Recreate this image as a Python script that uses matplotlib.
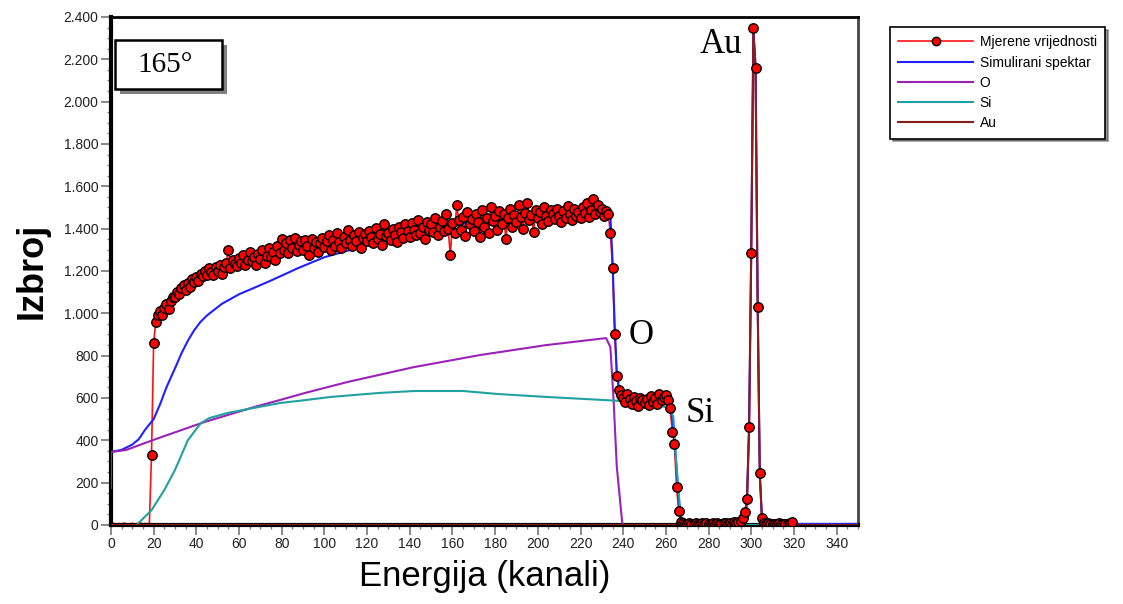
import numpy as np
import matplotlib
matplotlib.use("Agg")
import matplotlib.pyplot as plt
from matplotlib.lines import Line2D
from matplotlib.patches import Rectangle
from matplotlib.ticker import MultipleLocator, FuncFormatter

# measured spectrum, one value per channel 0..319
meas_ch = np.arange(0, 320)
meas_counts = [
    5, 8, 6, 4, 7, 5, 9, 6, 4, 6,
    8, 5, 7, 6, 9, 5, 7, 6, 8, 330,
    860, 960, 990, 1010, 990, 1025, 1045, 1020, 1060, 1075,
    1075, 1100, 1090, 1120, 1135, 1110, 1145, 1125, 1160, 1150,
    1170, 1155, 1185, 1175, 1200, 1180, 1215, 1195, 1180, 1220,
    1200, 1230, 1185, 1220, 1240, 1300, 1215, 1250, 1235, 1225,
    1260, 1240, 1275, 1230, 1250, 1290, 1245, 1265, 1230, 1280,
    1255, 1300, 1240, 1270, 1310, 1265, 1290, 1250, 1320, 1285,
    1350, 1300, 1330, 1285, 1345, 1310, 1355, 1295, 1325, 1340,
    1300, 1345, 1320, 1275, 1350, 1310, 1335, 1290, 1330, 1355,
    1315, 1340, 1370, 1300, 1345, 1320, 1380, 1335, 1310, 1360,
    1330, 1395, 1345, 1320, 1370, 1340, 1385, 1310, 1355, 1375,
    1340, 1390, 1360, 1330, 1405, 1350, 1375, 1325, 1420, 1365,
    1380, 1345, 1400, 1370, 1335, 1410, 1385, 1355, 1420, 1390,
    1360, 1425, 1395, 1370, 1440, 1380, 1410, 1350, 1430, 1395,
    1420, 1385, 1450, 1370, 1410, 1435, 1390, 1470, 1400, 1275,
    1425, 1380, 1510, 1440, 1395, 1455, 1365, 1480, 1420, 1445,
    1390, 1470, 1430, 1360, 1490, 1410, 1450, 1380, 1500, 1435,
    1460, 1395, 1485, 1420, 1470, 1350, 1450, 1495, 1410, 1465,
    1430, 1510, 1455, 1400, 1475, 1520, 1440, 1465, 1385, 1490,
    1450, 1480, 1420, 1500, 1460, 1435, 1490, 1470, 1445, 1495,
    1460, 1430, 1485, 1450, 1505, 1470, 1440, 1495, 1460, 1480,
    1450, 1500, 1475, 1520, 1455, 1490, 1540, 1470, 1510, 1480,
    1495, 1460, 1485, 1470, 1380, 1215, 900, 705, 640, 615,
    600, 580, 620, 595, 570, 605, 585, 560, 600, 590,
    575, 595, 565, 610, 580, 600, 570, 620, 590, 605,
    615, 590, 555, 440, 385, 180, 65, 15, 10, 6,
    5, 9, 7, 6, 8, 5, 7, 10, 6, 8,
    7, 5, 9, 6, 8, 7, 5, 9, 8, 6,
    10, 7, 12, 9, 15, 20, 35, 60, 123, 463,
    1285, 2348, 2159, 1030, 246, 33, 10, 6, 8, 5,
    7, 6, 5, 8, 6, 7, 5, 6, 9, 14,
]

# simulated total spectrum
sim_ch = [0, 5, 10, 13, 16, 20, 23, 26, 30, 33, 36, 39, 42, 45, 52, 60, 67, 75,
          88, 100, 112, 125, 135, 150, 160, 168, 182, 196, 206, 220, 233, 234,
          235, 236, 237, 238, 240, 245, 250, 255, 260, 262, 263, 264, 265, 266,
          267, 268, 296, 297, 298, 299, 300, 301, 302, 303, 304, 305, 306, 350]
sim_counts = [345, 355, 380, 405, 450, 500, 570, 650, 740, 810, 870, 920, 960,
              990, 1045, 1090, 1120, 1155, 1215, 1265, 1299, 1330, 1356, 1394,
              1410, 1431, 1441, 1460, 1464, 1470, 1475, 1460, 1250, 950, 720,
              650, 615, 600, 595, 590, 585, 560, 500, 400, 270, 120, 40, 8,
              5, 25, 115, 470, 1300, 2330, 2170, 1050, 240, 30, 5, 5]

# oxygen
o_ch = [0, 0, 7, 21, 44, 67, 79, 91, 111, 142, 173, 204, 232, 234, 235.5, 237,
        239.5, 240, 350]
o_counts = [175, 345, 354, 406, 487, 557, 590, 624, 676, 746, 803, 850, 883,
            840, 590, 275, 15, 0, 0]

# silicon
si_ch = [0, 12, 19, 25, 30, 36, 42, 46, 55, 68, 79, 91, 103, 126, 142, 165,
         181, 204, 228, 248, 262, 263.5, 265, 266.8, 268, 350]
si_counts = [0, 0, 70, 165, 260, 400, 480, 505, 530, 555, 576, 590, 605, 624,
             633, 633, 619, 605, 592, 581, 553, 510, 274, 57, 0, 0]

# gold
au_ch = [0, 296, 297, 298, 299, 300, 301, 302, 303, 304, 305, 306, 350]
au_counts = [0, 0, 20, 110, 470, 1300, 2330, 2170, 1050, 240, 30, 0, 0]

series_labels = ["Mjerene vrijednosti", "Simulirani spektar", "O", "Si", "Au"]
c_meas = "#ff1010"
c_sim = "#2020ff"
c_o = "#9a22b5"
c_si = "#20a0a0"
c_au = "#8b1c1c"

plt.rcParams["font.family"] = ["Liberation Sans", "DejaVu Sans"]

fig = plt.figure(figsize=(11.23, 6.04), dpi=100)
ax = fig.add_axes([0.0988, 0.1308, 0.6652, 0.8411])

ax.plot(meas_ch, meas_counts, color=c_meas, lw=1.2, zorder=2)
ax.plot(sim_ch, sim_counts, color=c_sim, lw=1.5, zorder=3)
ax.plot(o_ch, o_counts, color=c_o, lw=1.5, zorder=3)
ax.plot(si_ch, si_counts, color=c_si, lw=1.5, zorder=3)
ax.plot(au_ch, au_counts, color=c_au, lw=1.5, zorder=3)
ax.plot(meas_ch[19:], meas_counts[19:], ls="none", marker="o", ms=6.8,
        mfc="red", mec="black", mew=1.0, zorder=4)

ax.set_xlim(0, 350)
ax.set_ylim(0, 2400)
ax.xaxis.set_major_locator(MultipleLocator(20))
ax.xaxis.set_minor_locator(MultipleLocator(5))
ax.yaxis.set_major_locator(MultipleLocator(200))
ax.yaxis.set_minor_locator(MultipleLocator(50))
ax.yaxis.set_major_formatter(FuncFormatter(lambda v, p: f"{int(v):,}".replace(",", ".")))
ax.tick_params(which="major", direction="out", length=7, width=1.3,
               color="#808080", labelsize=10, labelcolor="#222222", pad=2)
ax.tick_params(which="minor", direction="out", length=3, width=1.0,
               color="#808080")

ax.spines["left"].set_linewidth(3)
ax.spines["bottom"].set_linewidth(3)
ax.spines["top"].set_linewidth(2)
ax.spines["right"].set_linewidth(2)
ax.spines["right"].set_color("#444444")

ax.set_xlabel("Energija (kanali)", fontsize=25, labelpad=6)
ax.set_ylabel("Izbroj", fontsize=26, fontweight="bold", labelpad=10)

# element labels
ax.text(286, 2272, "Au", family="Liberation Serif", fontsize=25,
        ha="center", va="center")
ax.text(248.5, 893, "O", family="Liberation Serif", fontsize=25,
        ha="center", va="center")
ax.text(276, 529, "Si", family="Liberation Serif", fontsize=25,
        ha="center", va="center")

# angle box with shadow
ax.add_patch(Rectangle((0.012, 0.848), 0.143, 0.097, transform=ax.transAxes,
                       facecolor="#808080", edgecolor="none", zorder=5))
ax.add_patch(Rectangle((0.0054, 0.858), 0.143, 0.097, transform=ax.transAxes,
                       facecolor="white", edgecolor="black", lw=1.8, zorder=6))
ax.text(0.0723, 0.905, "165°", transform=ax.transAxes, family="Liberation Serif",
        fontsize=21, ha="center", va="center", zorder=7)

handles = [
    Line2D([], [], color=c_meas, lw=1.2, marker="o", ms=6, mfc="red", mec="black"),
    Line2D([], [], color=c_sim, lw=1.5),
    Line2D([], [], color=c_o, lw=1.5),
    Line2D([], [], color=c_si, lw=1.5),
    Line2D([], [], color=c_au, lw=1.5),
]
leg = fig.legend(handles, series_labels, loc="upper left",
                 bbox_to_anchor=(890 / 1123, 1 - 27 / 604), fontsize=10,
                 frameon=True, fancybox=False, shadow={"color": "#333333"},
                 edgecolor="black", handlelength=5.4, handletextpad=0.45,
                 labelspacing=0.45, borderpad=0.6, numpoints=1, borderaxespad=0)
leg.get_frame().set_linewidth(1.2)

fig.savefig("out.png", dpi=100)
